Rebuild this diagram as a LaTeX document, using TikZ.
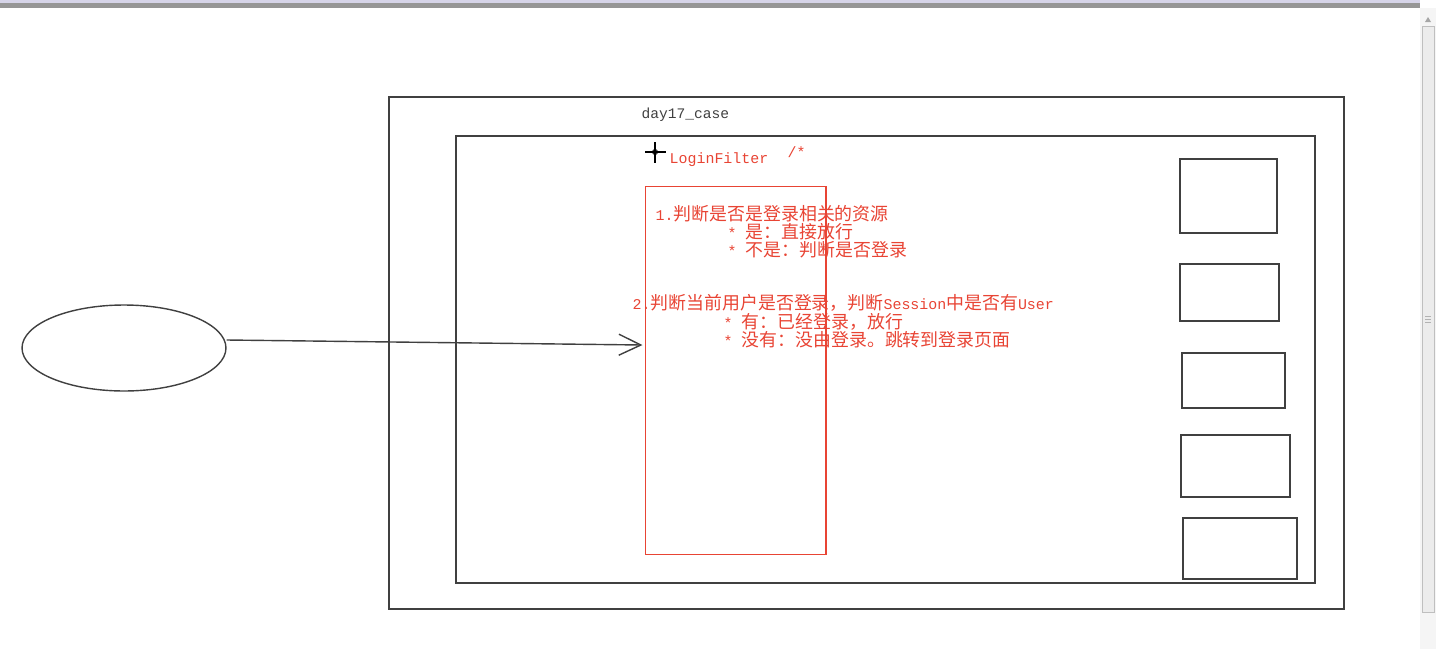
\documentclass[tikz,border=0pt]{standalone}
\usepackage{fontspec}
\setmainfont{Liberation Mono}
\newfontfamily\cjk{Noto Sans CJK SC}
\usetikzlibrary{arrows.meta}
\usetikzlibrary{shapes.geometric}
\definecolor{filterred}{RGB}{232, 68, 52}
\definecolor{frame}{RGB}{64, 64, 64}
\definecolor{chrome}{RGB}{150, 150, 150}
\definecolor{chromelight}{RGB}{214, 212, 232}
\newcommand{\zh}[1]{{\cjk\fontsize{10.2}{12}\selectfont #1}}

\begin{document}
\begin{tikzpicture}[x=0.02cm, y=-0.02cm, line width=0.8pt,
  >={Straight Barb[length=4.4mm, width=4.2mm]},
  redtext/.style={text=filterred, anchor=west, inner sep=0pt, font=\fontsize{8.5}{10}\selectfont},
  resbox/.style={draw=frame}]
\useasboundingbox (0, 0) rectangle (1436, 649);
% window chrome
\fill[chromelight] (0, 0) rectangle (1420, 3);
\fill[chrome] (0, 3) rectangle (1420, 8);
\fill[gray!8] (1420, 8) rectangle (1436, 649);
\draw[gray!50, line width=0.5pt, fill=gray!15] (1422, 26) rectangle (1434, 612);
\fill[gray!70] (1425, 22) -- (1431, 22) -- (1428, 17) -- cycle;
\draw[gray!60, line width=0.4pt] (1425, 316) -- (1431, 316) (1425, 319) -- (1431, 319) (1425, 322) -- (1431, 322);
% web app
\draw[frame] (389, 97) rectangle (1344, 609);
\node[anchor=west, inner sep=0pt, text=frame, font=\fontsize{8.3}{10}\selectfont] (app) at (641, 115) {day17\_case};
\draw[frame] (456, 136) rectangle (1315, 583);
% filter
\draw[black] (645, 152) -- (666, 152);
\draw[black] (655, 142) -- (655, 163);
\draw[black, line width=0.5pt] (655, 152) circle (2.5);
\node[redtext] (name) at (669, 160) {LoginFilter};
\node[redtext] (comment) at (787, 152) {/*};
\node[draw=filterred, line width=0.6pt, minimum width=3.62cm, minimum height=7.38cm, inner sep=0pt]
  (filter) at (735.5, 370.5) {};
\node[redtext] (step1) at (655, 214) {1.\zh{判断是否是登录相关的资源}};
\node[redtext] (step1a) at (727, 232) {* \zh{是：直接放行}};
\node[redtext] (step1b) at (727, 250) {* \zh{不是：判断是否登录}};
\node[redtext] (step2) at (632, 303) {2.\zh{判断当前用户是否登录，判断}Session\zh{中是否有}User};
\node[redtext] (step2a) at (723, 322) {* \zh{有：已经登录，放行}};
\node[redtext] (step2b) at (723, 340) {* \zh{没有：没由登录。跳转到登录页面}};
% resources
\node[resbox, minimum width=1.94cm, minimum height=1.48cm] (res1) at (1228.5, 196) {};
\node[resbox, minimum width=1.98cm, minimum height=1.14cm] (res2) at (1229.5, 292.5) {};
\node[resbox, minimum width=2.06cm, minimum height=1.10cm] (res3) at (1233.5, 380.5) {};
\node[resbox, minimum width=2.18cm, minimum height=1.24cm] (res4) at (1235.5, 466) {};
\node[resbox, minimum width=2.28cm, minimum height=1.22cm] (res5) at (1240, 548.5) {};
% client
\node[draw=frame, ellipse, minimum width=4.08cm, minimum height=1.72cm, inner sep=0pt] (client) at (124, 348) {};
\draw[->, frame] ([yshift=0.16cm]client.east) -- ([yshift=0.51cm, xshift=-0.04cm]filter.west);
\end{tikzpicture}
\end{document}
